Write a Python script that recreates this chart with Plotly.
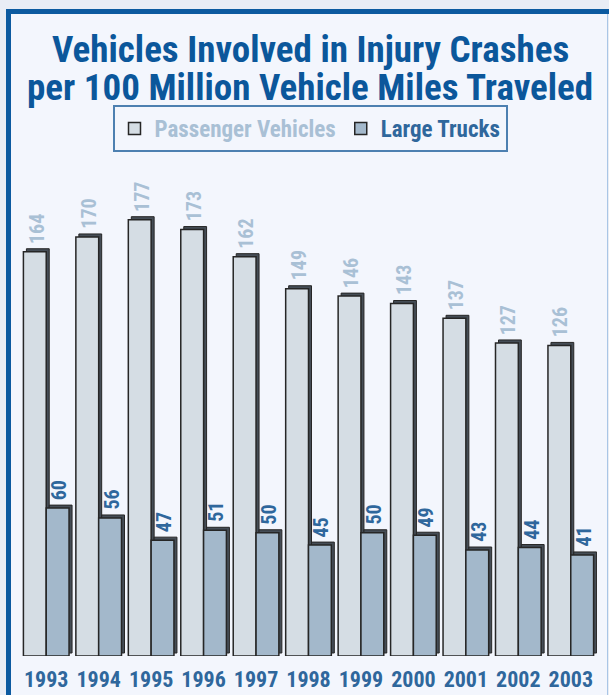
import plotly.graph_objects as go

years = ["1993", "1994", "1995", "1996", "1997", "1998", "1999", "2000", "2001", "2002", "2003"]
passenger = [164, 170, 177, 173, 162, 149, 146, 143, 137, 127, 126]
trucks = [60, 56, 47, 51, 50, 45, 50, 49, 43, 44, 41]

W, H = 609, 695
ML, MR, MT, MB = 20, 12, 163, 39
YMAX = 200
plot_w = W - ML - MR
plot_h = H - MT - MB
px_per_cat = plot_w / len(years)
px_per_unit = plot_h / YMAX

FONT = "Roboto Condensed, DejaVu Sans Condensed, sans-serif"
BAR_W = 0.435
DEPTH = 3
DX = DEPTH / px_per_cat
DY = DEPTH / px_per_unit
SHADOW = "#454d56"
EDGE = "#262626"

def px_x(p):
    return (p - ML) / plot_w

def px_y(p):
    return (H - MB - p) / plot_h

fig = go.Figure()
annotations = []

series = [
    ("Passenger Vehicles", passenger, -BAR_W, "#d5dde4", "#a9c0d5"),
    ("Large Trucks", trucks, 0.0, "#a3b8cb", "#2f679c"),
]
for name, vals, off, fill, tcol in series:
    fig.add_trace(go.Bar(
        x=years, y=vals, base=[DY] * len(vals), offset=off + DX, width=BAR_W,
        marker=dict(color=SHADOW, line=dict(color=EDGE, width=1)),
        showlegend=False, hoverinfo="skip",
    ))
    fig.add_trace(go.Bar(
        x=years, y=vals, offset=off, width=BAR_W, name=f"<span style='color:{tcol}'>{name}</span>",
        marker=dict(color=fill, line=dict(color=EDGE, width=1.5)),
        hoverinfo="x+y",
    ))
    for i, v in enumerate(vals):
        annotations.append(dict(
            text=str(v), x=i + off + BAR_W / 2, y=v, xref="x", yref="y",
            xanchor="center", yanchor="bottom",
            xshift=DEPTH / 2, yshift=DEPTH + 3, textangle=-90, showarrow=False,
            font=dict(family=FONT, size=20, color=tcol, weight="bold"),
        ))

shapes = [
    dict(type="rect", xref="paper", yref="paper", x0=px_x(11), x1=px_x(607), y0=px_y(H + 5), y1=px_y(13),
         fillcolor="#f3f6fd", line=dict(width=0), layer="below"),
    dict(type="line", xref="paper", yref="paper", x0=px_x(8.5), x1=px_x(8.5), y0=px_y(H + 5), y1=px_y(9),
         line=dict(color="#0c5aa0", width=5), layer="below"),
    dict(type="line", xref="paper", yref="paper", x0=px_x(6), x1=px_x(W + 5), y0=px_y(11.5), y1=px_y(11.5),
         line=dict(color="#0c5aa0", width=5), layer="below"),
    dict(type="line", xref="paper", yref="paper", x0=px_x(607.5), x1=px_x(607.5), y0=px_y(H + 5), y1=px_y(14),
         line=dict(color="#a9c6e6", width=1), layer="below"),
]

annotations += [
    dict(text="Vehicles Involved in Injury Crashes", xref="paper", yref="paper", x=px_x(310), y=px_y(50),
         xanchor="center", yanchor="middle", showarrow=False,
         font=dict(family=FONT, size=37, color="#0b579b", weight="bold")),
    dict(text="per 100 Million Vehicle Miles Traveled", xref="paper", yref="paper", x=px_x(310), y=px_y(88),
         xanchor="center", yanchor="middle", showarrow=False,
         font=dict(family=FONT, size=37, color="#0b579b", weight="bold")),
]

fig.update_layout(
    width=W, height=H,
    margin=dict(l=ML, r=MR, t=MT, b=MB, autoexpand=False),
    paper_bgcolor="#e9edf5",
    plot_bgcolor="rgba(0,0,0,0)",
    barmode="overlay",
    shapes=shapes,
    annotations=annotations,
    legend=dict(
        orientation="h", x=px_x(310), xanchor="center", y=px_y(105), yanchor="top",
        bordercolor="#4d80b1", borderwidth=2, bgcolor="#f3f6fd",
        font=dict(family=FONT, size=23, weight="bold"),
        traceorder="normal", itemwidth=30,
    ),
    xaxis=dict(
        type="category", showgrid=False, showline=False, zeroline=False, ticks="",
        tickfont=dict(family=FONT, size=22, color="#2f679c", weight="bold"),
        ticklabelstandoff=8, tickangle=0, automargin=False,
        range=[-0.5, len(years) - 0.5],
    ),
    yaxis=dict(range=[0, YMAX], visible=False, showgrid=False, zeroline=False, automargin=False),
    showlegend=True,
)

fig.write_html("out.html", config={"displayModeBar": False},
               post_script="document.body.style.margin='0';")
